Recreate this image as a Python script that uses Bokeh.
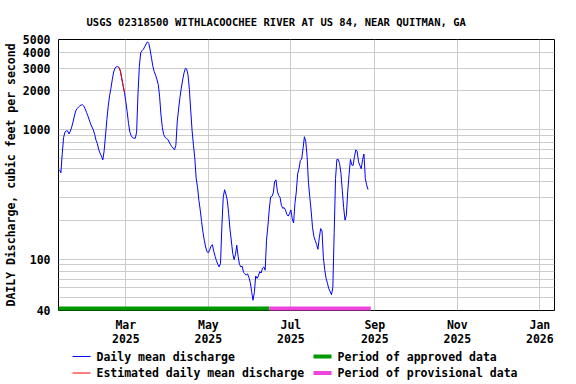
import pandas as pd
from bokeh.plotting import figure
from bokeh.layouts import column
from bokeh.models import FixedTicker, Range1d, NumeralTickFormatter
from bokeh.core.properties import value
from bokeh.embed import file_html
from bokeh.resources import INLINE

TITLE = "USGS 02318500 WITHLACOOCHEE RIVER AT US 84, NEAR QUITMAN, GA"
Y_LABEL = "DAILY Discharge, cubic feet per second"

# daily mean discharge (cfs), one value per day starting at first_day
first_day = "2025-01-11"
flow_jan_feb = [490, 465, 650, 870, 960, 982, 980, 930, 975, 1050,
                1150, 1280, 1400, 1460, 1500, 1530, 1560, 1560, 1525, 1450,
                1360, 1280, 1190, 1110, 1050, 1000, 920, 830, 780, 700,
                660, 625, 585, 690, 910, 1200, 1520, 1830, 2100, 2450,
                2800, 3000, 3070, 3090, 3040, 2850, 2500, 2200, 1950]
flow_mar_apr = [1650, 1380, 1120, 960, 900, 869, 862, 860, 960, 1900,
                3100, 3950, 4100, 4200, 4400, 4620, 4800, 4650, 4150, 3580,
                3100, 2820, 2650, 2450, 2235, 1800, 1300, 1040, 920, 875,
                858, 845, 805, 770, 740, 722, 700, 760, 1150, 1450,
                1780, 2100, 2430, 2750, 2990, 2950, 2650, 2050, 1400, 980,
                760, 600, 423, 360, 285, 240, 195, 162, 140, 124, 114]
flow_may_jun = [112, 118, 126, 129, 115, 105, 97, 91, 87, 93,
                180, 300, 344, 318, 285, 225, 170, 138, 111, 99,
                108, 128, 105, 91, 87, 88, 79, 77, 75, 77,
                72, 66, 56, 48, 55, 74, 71, 74, 80, 78,
                85, 87, 82, 140, 180, 240, 302, 305, 325, 398,
                410, 335, 310, 300, 260, 247, 250, 240, 222, 215, 225]
flow_jul_aug = [240, 205, 190, 270, 330, 456, 500, 578, 595, 720,
                885, 810, 620, 390, 300, 235, 175, 150, 139, 130,
                119, 146, 172, 165, 103, 83, 71, 65, 59, 56,
                53, 60, 160, 420, 590, 590, 548, 460, 340, 250,
                200, 218, 330, 450, 590, 535, 530, 620, 700, 680,
                565, 530, 500, 590, 650, 420, 375, 345]
flow = flow_jan_feb + flow_mar_apr + flow_may_jun + flow_jul_aug

# estimated values period
est_start, est_end = "2025-02-24", "2025-02-28"
# data-status periods
approved = ("2025-01-10", "2025-06-15")
provisional = ("2025-06-15", "2025-08-29")

x_tick_dates = ["2025-03-01", "2025-05-01", "2025-07-01", "2025-09-01",
                "2025-11-01", "2026-01-01"]
x_tick_labels = ["Mar\n2025", "May\n2025", "Jul\n2025", "Sep\n2025",
                 "Nov\n2025", "Jan\n2026"]
y_ticks = [40, 100, 1000, 2000, 3000, 4000, 5000]
y_minor = [50, 60, 70, 80, 90, 200, 300, 400, 500, 600, 700, 800, 900]
x_start, x_end = "2025-01-10 06:00", "2026-01-11 20:00"

legend_labels = ["Daily mean discharge", "Estimated daily mean discharge",
                 "Period of approved data", "Period of provisional data"]

BLUE, RED, GREEN, MAGENTA = "#0000FF", "#FF0000", "#009900", "#EE44DD"
FONT = "DejaVu Sans Mono"

dates = pd.date_range(first_day, periods=len(flow), freq="D")
df = pd.DataFrame({"date": dates, "flow": flow})
est = df[(df.date >= est_start) & (df.date <= est_end)]


def ms(s):
    return int(pd.Timestamp(s).value // 10**6)


W, H_MAIN, H_LEG = 576, 348, 36
BL, BR = 58, 22

p = figure(width=W, height=H_MAIN, x_axis_type="datetime", y_axis_type="log",
           x_range=Range1d(pd.Timestamp(x_start), pd.Timestamp(x_end)),
           y_range=Range1d(y_ticks[0], y_ticks[-1]),
           output_backend="svg", toolbar_location=None,
           min_border_left=BL, min_border_right=BR,
           min_border_top=39, min_border_bottom=36)
p.title.text = TITLE
p.title.align = "left"
p.title.offset = 28
p.title.standoff = 23
p.title.text_font = FONT
p.title.text_font_style = "bold"
p.title.text_font_size = "10.5px"
p.title.text_color = "black"
p.background_fill_color = "white"
p.border_fill_color = "white"
p.outline_line_color = "black"
p.outline_line_width = 1

# data
p.line(df.date, df.flow, color=BLUE, line_width=1)
p.line(est.date, est.flow, color=RED, line_width=1)

# period bars at the bottom of the plot (half clipped by the frame)
p.segment(x0=[pd.Timestamp(approved[0])], y0=[y_ticks[0]],
          x1=[pd.Timestamp(approved[1])], y1=[y_ticks[0]],
          color=GREEN, line_width=8)
p.segment(x0=[pd.Timestamp(provisional[0])], y0=[y_ticks[0]],
          x1=[pd.Timestamp(provisional[1])], y1=[y_ticks[0]],
          color=MAGENTA, line_width=8)

# axes
xa = p.xaxis[0]
xa.ticker = FixedTicker(ticks=[ms(d) for d in x_tick_dates])
xa.major_label_overrides = {ms(d): lab for d, lab in zip(x_tick_dates, x_tick_labels)}
xa.major_label_text_line_height = 1.0
ya = p.yaxis[0]
ya.ticker = FixedTicker(ticks=y_ticks, minor_ticks=y_minor)
ya.formatter = NumeralTickFormatter(format="0")
ya.axis_label = Y_LABEL
ya.axis_label_standoff = 2
for ax in (xa, ya):
    ax.axis_line_color = None
    ax.major_tick_line_color = None
    ax.minor_tick_line_color = None
    ax.major_tick_out = 0
    ax.major_tick_in = 0
    ax.major_label_text_font = FONT
    ax.major_label_text_font_style = "bold"
    ax.major_label_text_font_size = "11.5px"
    ax.major_label_text_color = "black"
    ax.axis_label_text_font = FONT
    ax.axis_label_text_font_style = "bold"
    ax.axis_label_text_font_size = "11.5px"
    ax.axis_label_text_color = "black"
xa.major_label_standoff = 7
ya.major_label_standoff = 4

p.xgrid.grid_line_color = "#cccccc"
p.ygrid.grid_line_color = "#cccccc"
p.ygrid.minor_grid_line_color = "#cccccc"

# legend strip below the chart; its frame is aligned with the chart frame,
# so its x range is expressed in page pixels (y downward)
lg = figure(width=W, height=H_LEG, x_range=Range1d(BL, W - BR),
            y_range=Range1d(H_LEG, 0),
            output_backend="svg", toolbar_location=None,
            x_axis_location=None, y_axis_location=None,
            min_border_left=BL, min_border_right=BR,
            min_border_top=0, min_border_bottom=0)
lg.grid.visible = False
lg.outline_line_color = None
lg.background_fill_color = "white"
lg.border_fill_color = "white"
lg_x0 = [72, 72, 313, 313]
lg_y = [8, 24.5, 8, 24.5]
lg.segment(x0=lg_x0, y0=lg_y, x1=[x + 18 for x in lg_x0], y1=lg_y,
           color=[BLUE, RED, GREEN, MAGENTA], line_width=[1, 1, 4, 4])
lg.text(x=[x + 24 for x in lg_x0], y=lg_y, text=legend_labels,
        text_font=value(FONT), text_font_style="bold", text_font_size="11.5px",
        text_align="left", text_baseline="middle", text_color="black")

open("out.html", "w").write(file_html(column(p, lg), INLINE))
